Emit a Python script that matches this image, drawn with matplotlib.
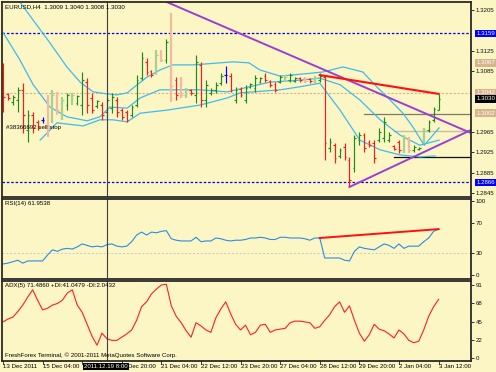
import matplotlib
matplotlib.use("Agg")
import matplotlib.pyplot as plt

W, H = 496, 372
BG = "#fcf5c4"

# EURUSD H4, 89 bars (13 Dec 2011 20:00 .. 3 Jan 2012 12:00)
opens = [1.3083, 1.3040, 1.3024, 1.3028, 1.3048, 1.2969, 1.2998, 1.2985, 1.2989, 1.3028,
         1.2993, 1.3038, 1.3004, 1.3018, 1.3024, 1.3022, 1.3018, 1.3063, 1.3032, 1.3016,
         1.3018, 1.3004, 1.3012, 1.3028, 1.3008, 1.3004, 1.2998, 1.3018, 1.3071, 1.3103,
         1.3085, 1.3083, 1.3122, 1.3107, 1.3146, 1.3067, 1.3058, 1.3038, 1.3048, 1.3038,
         1.3097, 1.3028, 1.3042, 1.3048, 1.3061, 1.3077, 1.3075, 1.3028, 1.3050, 1.3028,
         1.3054, 1.3052, 1.3063, 1.3075, 1.3065, 1.3059, 1.3063, 1.3067, 1.3067, 1.3065,
         1.3071, 1.3071, 1.3069, 1.3065, 1.3067, 1.3073, 1.2934, 1.2939, 1.2918, 1.2936,
         1.2910, 1.2894, 1.2949, 1.2959, 1.2945, 1.2943, 1.2949, 1.2953, 1.2949, 1.2937,
         1.2945, 1.2930, 1.2949, 1.2930, 1.2932, 1.2949, 1.2969, 1.2989, 1.3009]
highs = [1.3101, 1.3042, 1.3038, 1.3054, 1.3061, 1.3008, 1.3004, 1.2989, 1.2995, 1.3038,
         1.3048, 1.3044, 1.3034, 1.3042, 1.3042, 1.3038, 1.3083, 1.3071, 1.3042, 1.3028,
         1.3024, 1.3034, 1.3042, 1.3034, 1.3012, 1.3008, 1.3018, 1.3077, 1.3122, 1.3111,
         1.3087, 1.3126, 1.3126, 1.3148, 1.3199, 1.3073, 1.3073, 1.3052, 1.3050, 1.3117,
         1.3103, 1.3067, 1.3052, 1.3063, 1.3081, 1.3095, 1.3081, 1.3054, 1.3054, 1.3058,
         1.3061, 1.3077, 1.3073, 1.3081, 1.3067, 1.3063, 1.3077, 1.3077, 1.3081, 1.3073,
         1.3073, 1.3073, 1.3071, 1.3075, 1.3081, 1.3077, 1.2953, 1.2943, 1.2934, 1.2943,
         1.2916, 1.2959, 1.2965, 1.2963, 1.2949, 1.2949, 1.2973, 1.2995, 1.2965, 1.2939,
         1.2949, 1.2959, 1.2955, 1.2939, 1.2936, 1.2973, 1.2989, 1.3014, 1.3040]
lows = [1.3004, 1.3028, 1.3018, 1.3004, 1.2963, 1.2945, 1.2963, 1.2969, 1.2983, 1.2955,
        1.2983, 1.2998, 1.2989, 1.3008, 1.3018, 1.3018, 1.2998, 1.3002, 1.3002, 1.3012,
        1.2989, 1.2993, 1.3002, 1.2995, 1.2989, 1.2985, 1.2995, 1.3014, 1.3067, 1.3077,
        1.3073, 1.3077, 1.3103, 1.3101, 1.3024, 1.3028, 1.3032, 1.3032, 1.3038, 1.3022,
        1.3014, 1.3014, 1.3038, 1.3042, 1.3058, 1.3061, 1.3044, 1.3022, 1.3034, 1.3022,
        1.3052, 1.3044, 1.3061, 1.3063, 1.3054, 1.3044, 1.3061, 1.3063, 1.3063, 1.3063,
        1.3063, 1.3061, 1.3061, 1.3061, 1.3063, 1.2910, 1.2926, 1.2904, 1.2914, 1.2910,
        1.2857, 1.2886, 1.2939, 1.2926, 1.2936, 1.2904, 1.2945, 1.2945, 1.2945, 1.2930,
        1.2924, 1.2924, 1.2924, 1.2926, 1.2930, 1.2943, 1.2965, 1.2985, 1.3008]
closes = [1.3034, 1.3032, 1.3034, 1.3048, 1.2998, 1.2998, 1.2973, 1.2973, 1.2989, 1.2979,
          1.3038, 1.3008, 1.3028, 1.3038, 1.3038, 1.3036, 1.3067, 1.3018, 1.3008, 1.3026,
          1.2998, 1.3028, 1.3034, 1.3004, 1.2995, 1.2989, 1.3014, 1.3067, 1.3111, 1.3083,
          1.3077, 1.3117, 1.3107, 1.3142, 1.3056, 1.3038, 1.3038, 1.3048, 1.3042, 1.3103,
          1.3028, 1.3058, 1.3048, 1.3058, 1.3075, 1.3077, 1.3048, 1.3048, 1.3038, 1.3052,
          1.3059, 1.3071, 1.3071, 1.3067, 1.3058, 1.3048, 1.3073, 1.3073, 1.3077, 1.3071,
          1.3067, 1.3065, 1.3065, 1.3071, 1.3075, 1.2943, 1.2945, 1.2914, 1.2930, 1.2916,
          1.2871, 1.2953, 1.2959, 1.2934, 1.2939, 1.2914, 1.2965, 1.2985, 1.2959, 1.2932,
          1.2930, 1.2953, 1.2930, 1.2936, 1.2934, 1.2969, 1.2985, 1.3010, 1.3030]
faded_bars = [9, 10, 11, 12, 14, 31, 32, 34, 36, 37, 57, 61, 63, 81, 82, 85]
blue_bars = [8, 45]

# band lines (bar position, price) as traced
upper_x = [3.4, 6.1, 9.5, 12.9, 15.6, 18.2, 21.0, 23.0, 25.1, 27.1, 29.1, 31.7, 34.3, 38.4,
           46.5, 49.7, 51.9, 56.0, 62.6, 64.6, 68.7, 72.7, 75.5, 78.2, 80.8, 82.8, 85.1, 88.1]
upper = [1.3221, 1.3185, 1.3140, 1.3093, 1.3063, 1.3044, 1.3040, 1.3038, 1.3042, 1.3058,
         1.3073, 1.3087, 1.3097, 1.3097, 1.3103, 1.3101, 1.3087, 1.3075, 1.3081, 1.3083,
         1.3093, 1.3083, 1.3054, 1.3028, 1.3002, 1.2975, 1.2939, 1.2973]
middle_x = [0.0, 3.4, 6.1, 9.5, 12.9, 17.0, 19.6, 21.6, 25.1, 27.7, 31.7, 39.8, 45.3, 53.9,
            60.0, 64.0, 68.1, 72.1, 76.2, 80.2, 84.2, 88.1]
middle = [1.3161, 1.3107, 1.3058, 1.3014, 1.2995, 1.2987, 1.2995, 1.3014, 1.3012, 1.3032,
          1.3048, 1.3048, 1.3044, 1.3063, 1.3067, 1.3071, 1.3058, 1.3028, 1.2989, 1.2959,
          1.2939, 1.2949]
lower_x = [7.5, 10.9, 16.2, 19.6, 22.2, 25.1, 27.7, 33.1, 39.8, 45.3, 47.9, 56.0, 60.0,
           64.0, 68.1, 72.1, 76.2, 80.2, 84.2, 87.3]
lower = [1.2949, 1.2983, 1.2977, 1.2989, 1.2989, 1.2985, 1.3002, 1.3008, 1.3018, 1.3032,
         1.3042, 1.3048, 1.3054, 1.3061, 1.3008, 1.2949, 1.2930, 1.2920, 1.2916, 1.2918]

rsi = [15, 16, 18, 20, 16, 19, 19, 19, 19, 27, 34, 32, 35, 36, 35, 38, 42, 40, 38, 39,
       38, 41, 42, 39, 38, 39, 45, 54, 58, 54, 58, 57, 59, 60, 49, 47, 46, 46, 46, 51,
       45, 46, 46, 50, 49, 47, 46, 47, 47, 48, 50, 50, 51, 50, 48, 48, 51, 51, 50, 50,
       50, 49, 47, 50, 50, 23, 23, 23, 23, 20, 19, 32, 38, 36, 35, 34, 38, 42, 40, 36,
       42, 36, 39, 39, 39, 45, 50, 59, 62]
adx = [45, 48.6, 51, 58, 66, 76, 85, 72, 60, 62, 66, 68, 72, 81, 85, 66, 57, 42, 27, 16,
       31, 24, 22, 22, 26, 30, 35, 47, 64, 70, 80, 86, 91, 92, 65, 52, 44, 34, 26, 44,
       40, 35, 32, 50, 61, 70, 55, 42, 35, 41, 29, 32, 41, 42, 32, 35, 36, 37, 44, 46,
       46, 45, 44, 37, 39, 47, 54, 64, 70, 57, 65, 47, 31, 21, 29, 42, 36, 34, 30, 25,
       35, 30, 22, 19, 21, 35, 52, 64, 73]

date_ticks = [0, 8, 16, 24, 32, 40, 48, 56, 64, 72, 80, 88]
# labels as visible: the 16 Dec one sits under the crosshair date box
date_labels = ["13 Dec 2011", "15 Dec 04:00", "", "Dec 20:00",
               "21 Dec 04:00", "22 Dec 12:00", "23 Dec 20:00", "27 Dec 04:00",
               "28 Dec 12:00", "29 Dec 20:00", "2 Jan 04:00", "3 Jan 12:00"]
price_ticks = [1.3205, 1.3125, 1.3085, 1.2965, 1.2925, 1.2885, 1.2845]
rsi_ticks = [100, 70, 30, 0]
adx_ticks = [91, 68, 45, 22, 0]

FONT = "Liberation Sans"
FS = 4.4
XMIN, XMAX = -0.2, 94.55

fig = plt.figure(figsize=(W / 100, H / 100), dpi=100)
fig.patch.set_facecolor(BG)


def panel(top, bottom, ylim, ticks, fmt):
    ax = fig.add_axes([2 / W, 1 - bottom / H, 469 / W, (bottom - top) / H])
    ax.set_facecolor(BG)
    ax.set_xlim(XMIN, XMAX)
    ax.set_ylim(*ylim)
    ax.set_xticks([])
    ax.yaxis.tick_right()
    ax.set_yticks(ticks)
    ax.set_yticklabels([fmt.format(t) for t in ticks], fontsize=FS, family=FONT)
    ax.tick_params(axis="y", length=2, width=0.6, pad=1.5, colors="#101010")
    for s in ax.spines.values():
        s.set_color("#2a2a2a")
        s.set_linewidth(1.3)
    return ax


ax = panel(2, 197, (1.28372, 1.32207), price_ticks, "{:.4f}")
ax_rsi = panel(199, 279, (-5.4, 102.7), rsi_ticks, "{}")
ax_adx = panel(281, 361, (-3.7, 96.0), adx_ticks, "{}")

# horizontal price lines
ax.axhline(1.3159, color="#0000e0", lw=0.9, ls=(0, (2, 1.5)))
ax.axhline(1.2866, color="#0000e0", lw=0.9, ls=(0, (2, 1.5)))
ax.axhline(1.3042, color="#d8b48c", lw=0.8, ls=(0, (2, 1.5)))
ax.plot([73, XMAX], [1.3000, 1.3000], color="#807a68", lw=0.9)
ax.plot([79, XMAX], [1.2967, 1.2967], color="#c8c0a0", lw=1.0)
ax.plot([79, XMAX], [1.2916, 1.2916], color="#101010", lw=0.9)

# bands
ax.plot(upper_x, upper, color="#3cbcf0", lw=0.9)
ax.plot(middle_x, middle, color="#3cbcf0", lw=0.9)
ax.plot(lower_x, lower, color="#3cbcf0", lw=0.9)

# OHLC bars
for k in range(len(opens)):
    o, h, l, c = opens[k], highs[k], lows[k], closes[k]
    if k in blue_bars:
        col = "#0000ff"
    elif k in faded_bars:
        col = "#a9d18e" if c >= o else "#f5b9a3"
    else:
        col = "#1c8c1c" if c >= o else "#ff1a1a"
    lw = 1.6 if k in faded_bars else 0.85
    ax.plot([k, k], [l, h], color=col, lw=lw, solid_capstyle="butt")
    ax.plot([k - 0.35, k], [o, o], color=col, lw=0.85, solid_capstyle="butt")
    ax.plot([k, k + 0.35], [c, c], color=col, lw=0.85, solid_capstyle="butt")

# trend lines
ax.plot([33, XMAX], [1.3221, 1.2963], color="#9b3fd0", lw=1.4)
ax.plot([70, XMAX], [1.2857, 1.2969], color="#9b3fd0", lw=1.4)
ax.plot([64, 88], [1.3077, 1.3040], color="#ff1010", lw=1.5)

# RSI
ax_rsi.axhline(30, color="#c8c8c8", lw=0.7, ls=(0, (2, 2)))
ax_rsi.plot(range(len(rsi)), rsi, color="#2a8ce6", lw=0.8)
ax_rsi.plot([64, 88], [50, 62], color="#ff1010", lw=1.4)

# ADX
ax_adx.plot(range(len(adx)), adx, color="#ff2020", lw=0.8)

# crosshair
for a in (ax, ax_rsi, ax_adx):
    a.axvline(21, color="#404040", lw=0.8)

# texts
tkw = dict(fontsize=FS, family=FONT, color="#000000")
fig.text(5 / W, 1 - 7 / H, "EURUSD,H4  1.3009 1.3040 1.3008 1.3030", va="center", **tkw)
fig.text(6 / W, 1 - 128 / H, "#38366692 sell stop", va="center", **tkw)
fig.text(5 / W, 1 - 204 / H, "RSI(14) 61.9538", va="center", **tkw)
fig.text(5 / W, 1 - 286 / H, "ADX(5) 71.4860 +DI:41.0479 -DI:2.0432", va="center", **tkw)
fig.text(5 / W, 1 - 355 / H, "FreshForex Terminal, \u00a9 2001-2011 MetaQuotes Software Corp.",
         va="center", **tkw)

# date axis
for t, lab in zip(date_ticks, date_labels):
    xf = (2 + (t - XMIN) / (XMAX - XMIN) * 469) / W
    fig.add_artist(plt.Line2D([xf, xf], [1 - 361 / H, 1 - 364 / H], color="#202020", lw=0.6))
    if lab.startswith("Dec"):
        xf += 6 / W
    fig.text(xf, 1 - 366.5 / H, lab, va="center", ha="left", **tkw)
fig.text(84 / W, 1 - 366.5 / H, "2011.12.19 8:00", va="center", ha="left",
         fontsize=FS, family=FONT, color="white",
         bbox=dict(boxstyle="square,pad=0.2", fc="#000000", ec="none"), zorder=10)

# price boxes on the right axis
boxes = [(1.3159, "1.3159", "#0000ff"), (1.3101, "1.3067", "#d8b48c"),
         (1.3042, "1.3042", "#d8b48c"), (1.3030, "1.3030", "#000000"),
         (1.3002, "1.3002", "#d8b48c"), (1.2866, "1.2866", "#0000ff")]
for p, lab, fc in boxes:
    ax.text(1.012, p, lab, transform=ax.get_yaxis_transform(), va="center", ha="left",
            fontsize=FS, family=FONT, color="white", clip_on=False,
            bbox=dict(boxstyle="square,pad=0.2", fc=fc, ec="none"), zorder=10)

fig.savefig("out.png", dpi=100, facecolor=BG)
